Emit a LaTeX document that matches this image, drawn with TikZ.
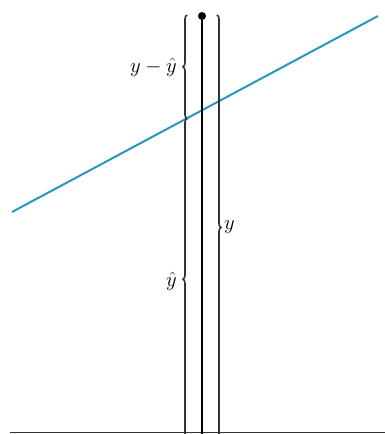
\documentclass[tikz,border=0pt]{standalone}
\usetikzlibrary{decorations.pathreplacing}
\definecolor{fitblue}{RGB}{40,150,190}
\definecolor{bracegray}{RGB}{50,50,50}
\begin{document}
\begin{tikzpicture}[x=1pt,y=-1pt,
  bracestyle/.style={draw=bracegray,line width=1.6pt,decorate,decoration={brace,amplitude=4pt,aspect=0.5}},
  lbl/.style={font=\fontsize{19.5}{22}\selectfont,inner sep=1pt}]
\useasboundingbox (0,0) rectangle (385,434);
% baseline
\coordinate (b0) at (10,432.5);
\coordinate (b1) at (385,432.5);
\draw[line width=1.3pt,black!80] (b0) -- (b1);
% fit line
\coordinate (f0) at (12,212);
\coordinate (f1) at (378,16);
\draw[fitblue,line width=2pt] (f0) -- (f1);
% points
\coordinate (top) at (202,16);
\coordinate (bot) at (202,434);
\coordinate (lt) at (187,15);
\coordinate (lm) at (187,118.5);
\coordinate (lb) at (187,440);
\coordinate (rt) at (217,15);
\coordinate (rb) at (217,440);
% braces
\draw[bracestyle] (lm) -- (lt);
\draw[bracestyle] (lb) -- (lm);
\draw[bracestyle] (rt) -- (rb);
% actual value line
\draw[line width=2.2pt,black] (top) -- (bot);
\fill (top) circle (4pt);
% labels
\node[lbl,anchor=east] (l1) at (178,67) {$y-\hat{y}$};
\node[lbl,anchor=east] (l2) at (178,281) {$\hat{y}$};
\node[lbl,anchor=west] (l3) at (223,227) {$y$};
\end{tikzpicture}
\end{document}
